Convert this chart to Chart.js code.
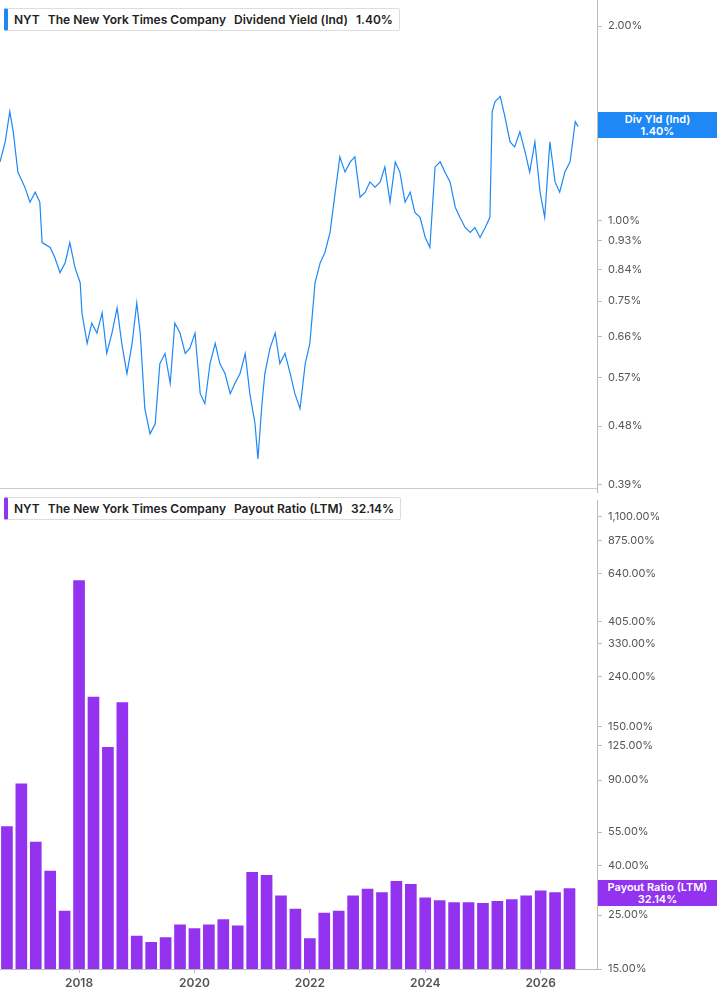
<!DOCTYPE html>
<html><head><meta charset="utf-8">
<script src="https://cdn.jsdelivr.net/npm/chart.js@4"></script>
<style>
body{margin:0;width:717px;height:1005px;background:#fff;font-family:Inter,"Noto Sans",sans-serif;position:relative;overflow:hidden}
#c1{position:absolute;left:0;top:-12px}
#c2{position:absolute;left:0;top:488px}
.leg{position:absolute;left:4px;background:#fff;border:1px solid #ddd;border-left:4px solid;font-size:12px;font-weight:600;color:#222;padding:3px 6px;white-space:nowrap;border-radius:2px}
.leg span{margin-right:8px}
.tag{position:absolute;left:598px;width:119px;color:#fff;font-size:11px;font-weight:600;text-align:center;line-height:12px;padding:1px 0}
#sep{position:absolute;left:0;top:488px;width:597px;height:1px;background:#ccc}
</style></head><body>
<canvas id="c1" width="717" height="517"></canvas>
<canvas id="c2" width="717" height="517"></canvas>
<div id="sep"></div>
<div class="leg" style="top:8px;border-left-color:#1e88f5"><span>NYT</span><span>The New York Times Company</span><span>Dividend Yield (Ind)</span>1.40%</div>
<div class="leg" style="top:497px;border-left-color:#9333f0"><span>NYT</span><span>The New York Times Company</span><span>Payout Ratio (LTM)</span>32.14%</div>
<div class="tag" style="top:112px;background:#1e88f5">Div Yld (Ind)<br>1.40%</div>
<div class="tag" style="top:880px;background:#9333f0">Payout Ratio (LTM)<br>32.14%</div>
<script>
const yieldDates=[2016.63,2016.72,2016.80,2016.86,2016.94,2017.06,2017.15,2017.24,2017.32,2017.36,2017.50,2017.58,2017.67,2017.76,2017.84,2017.93,2018.02,2018.05,2018.14,2018.22,2018.31,2018.40,2018.48,2018.57,2018.66,2018.74,2018.83,2018.92,2019.00,2019.06,2019.14,2019.23,2019.32,2019.40,2019.49,2019.58,2019.66,2019.75,2019.84,2019.92,2020.01,2020.10,2020.18,2020.27,2020.36,2020.44,2020.53,2020.62,2020.70,2020.79,2020.88,2020.96,2021.05,2021.10,2021.17,2021.22,2021.31,2021.40,2021.48,2021.57,2021.66,2021.74,2021.83,2021.92,2022.00,2022.09,2022.18,2022.26,2022.35,2022.44,2022.52,2022.61,2022.70,2022.78,2022.87,2022.96,2023.04,2023.13,2023.22,2023.30,2023.39,2023.48,2023.56,2023.65,2023.74,2023.82,2023.91,2024.00,2024.08,2024.17,2024.26,2024.34,2024.43,2024.52,2024.60,2024.69,2024.78,2024.86,2024.95,2025.04,2025.12,2025.16,2025.21,2025.30,2025.38,2025.47,2025.55,2025.64,2025.73,2025.81,2025.90,2025.99,2026.07,2026.16,2026.25,2026.33,2026.42,2026.51,2026.60,2026.65];
const yieldValues=[1.232,1.323,1.474,1.371,1.188,1.126,1.067,1.106,1.067,0.924,0.908,0.876,0.830,0.860,0.924,0.845,0.800,0.719,0.645,0.693,0.669,0.719,0.622,0.669,0.732,0.645,0.579,0.645,0.745,0.669,0.511,0.467,0.484,0.600,0.622,0.559,0.693,0.669,0.622,0.634,0.669,0.539,0.520,0.600,0.645,0.600,0.579,0.539,0.559,0.579,0.622,0.539,0.484,0.427,0.520,0.579,0.634,0.669,0.600,0.622,0.579,0.539,0.511,0.600,0.645,0.800,0.860,0.891,0.958,1.106,1.254,1.188,1.232,1.254,1.086,1.106,1.147,1.126,1.147,1.210,1.067,1.232,1.188,1.067,1.106,1.029,1.011,0.941,0.908,1.210,1.232,1.188,1.147,1.048,1.011,0.975,0.958,0.975,0.941,0.975,1.011,1.474,1.528,1.556,1.448,1.323,1.300,1.371,1.277,1.188,1.323,1.106,1.011,1.323,1.147,1.106,1.188,1.232,1.422,1.397];
const payoutDates=[2016.75,2017.00,2017.25,2017.50,2017.75,2018.00,2018.25,2018.50,2018.75,2019.00,2019.25,2019.50,2019.75,2020.00,2020.25,2020.50,2020.75,2021.00,2021.25,2021.50,2021.75,2022.00,2022.25,2022.50,2022.75,2023.00,2023.25,2023.50,2023.75,2024.00,2024.25,2024.50,2024.75,2025.00,2025.25,2025.50,2025.75,2026.00,2026.25,2026.50];
const payoutValues=[58,87,50,38,26,598,198,123,188,20.5,19.3,20.2,22.8,22,22.8,24,22.6,37.5,36.5,30,26.5,20,25.5,26,30,32,31,34.5,33.5,29.5,28.7,28.2,28.2,28,28.5,29,30,31.5,31,32.14];
const yieldTicks=[2.00,1.00,0.93,0.84,0.75,0.66,0.57,0.48,0.39];
const payoutTicks=[1100,875,640,405,330,240,150,125,90,55,40,25,15];
const xTicks=[2018,2020,2022,2024,2026];

const XMIN=2016.63, XMAX=2016.63+597/57.7;
const tickFont={family:'Inter',size:11};
function yAxis(min,max,ticks,fmt){return{type:'logarithmic',position:'right',min,max,
 afterBuildTicks:s=>{s.ticks=ticks.map(v=>({value:v}));},
 afterFit:s=>{s.width=120;},
 grid:{display:true,drawOnChartArea:false,drawTicks:true,tickLength:5,color:'#bbb'},
 border:{display:true,color:'#bbb'},
 ticks:{color:'#555',font:tickFont,padding:6,callback:v=>fmt(v)}};}
const pct=v=>v.toLocaleString('en-US',{minimumFractionDigits:2,maximumFractionDigits:2})+'%';
Chart.defaults.animation=false;
new Chart(document.getElementById('c1'),{type:'line',
 data:{datasets:[{data:yieldDates.map((d,i)=>({x:d,y:yieldValues[i]})),borderColor:'#1e88f5',borderWidth:1.2,pointRadius:0,tension:0}]},
 options:{responsive:false,layout:{padding:0},plugins:{legend:{display:false},tooltip:{enabled:false}},
  scales:{x:{type:'linear',min:XMIN,max:XMAX,display:false},
   y:yAxis(0.379,2.19,yieldTicks,pct)}}});
new Chart(document.getElementById('c2'),{type:'bar',
 data:{datasets:[{data:payoutDates.map((d,i)=>({x:d,y:payoutValues[i]})),backgroundColor:'#9333f0',barThickness:11}]},
 options:{responsive:false,layout:{padding:{top:6}},plugins:{legend:{display:false},tooltip:{enabled:false}},
  scales:{x:{type:'linear',offset:false,min:XMIN,max:XMAX,afterBuildTicks:s=>{s.ticks=xTicks.map(v=>({value:v}));},
    afterFit:s=>{s.height=36;},
    grid:{display:true,offset:false,drawOnChartArea:false,tickLength:4,color:'#bbb'},border:{color:'#bbb'},
    ticks:{color:'#555',font:{family:'Inter',size:12,weight:'600'},callback:v=>String(v)}},
   y:yAxis(15,1277,payoutTicks,pct)}}});
</script></body></html>
